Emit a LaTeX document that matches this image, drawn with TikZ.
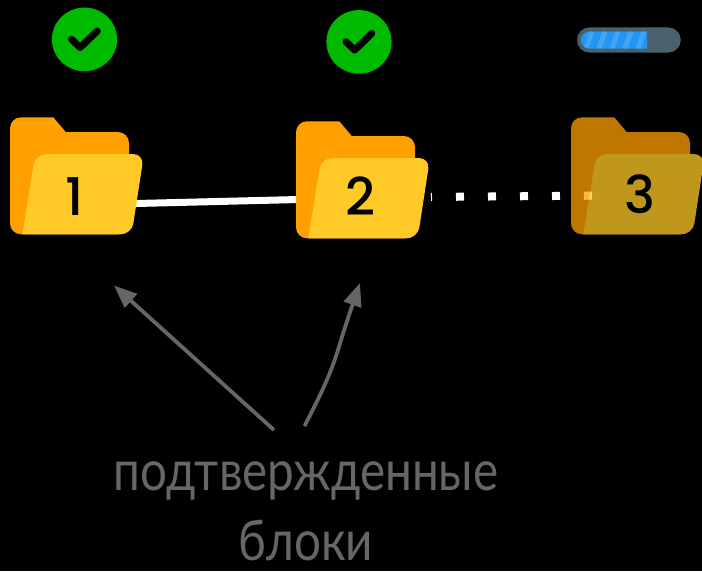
\documentclass[tikz,border=0pt]{standalone}
\usepackage{fontspec}
\setmainfont{Lato}
\newfontfamily\digitfont{Poppins Medium}
\newfontfamily\labelfont{Lato}
\usetikzlibrary{arrows.meta}
\pgfdeclarelayer{links}
\pgfdeclarelayer{base}
\pgfsetlayers{base,links,main}
\definecolor{folderback}{HTML}{FFA000}
\definecolor{folderfront}{HTML}{FFCA28}
\definecolor{okgreen}{HTML}{00BA00}
\definecolor{barback}{HTML}{4A606B}
\definecolor{barfill}{HTML}{2196F3}
\definecolor{barstripe}{HTML}{42A5F5}
\definecolor{notegrey}{HTML}{666666}
\tikzset{
  x=1pt,y=-1pt,
  folder/.pic={
    \fill[folderback,rounded corners=11] (40,234.3) -- (10,234.3) -- (10,117.3) [sharp corners] -- (53.3,117.3) -- (65.7,132) [rounded corners=11] -- (129,132) -- (129,234.3) -- cycle;
    \fill[folderfront,rounded corners=11] (80,234.3) [sharp corners] -- (22.3,234.3) [rounded corners=11] -- (35.3,154) -- (144,154) -- (131.7,234.3) -- cycle;
  },
  okmark/.pic={
    \fill[okgreen] (84.5,39.4) ellipse [x radius=32.6,y radius=31.8];
    \draw[black,line width=7,line cap=round,line join=round] (71.5,39.3) -- (80.2,47.5) -- (97.3,31);
  },
  digit/.style={inner sep=0,black,font=\digitfont\fontsize{52}{52}\selectfont},
  notearrow/.style={notegrey,line width=3.8,-{Triangle[length=23,width=18]}},
  solidlink/.style={white,line width=7},
  dotlink/.style={white,line width=8,dash pattern=on 8 off 24,dash phase=7,shorten <=71pt},
  note/.style={notegrey,align=center,inner sep=0,xscale=.85,font=\labelfont\fontsize{56}{70}\selectfont},
}
\begin{document}
\begin{tikzpicture}
\useasboundingbox (0,0) rectangle (702,571);
\begin{pgfonlayer}{base}
\fill[black] (0,0) rectangle (702,571);
\end{pgfonlayer}

\pic at (0,0) {okmark};
\pic at (274.5,2.5) {okmark};

% progress bar
\fill[barback] (589.6,27.4) arc[start angle=270,end angle=90,radius=12.6] -- (668.2,52.6) arc[start angle=90,end angle=-90,radius=12.6] -- cycle;
\begin{scope}
\clip (589.5,31.5) arc[start angle=270,end angle=90,radius=8.5] -- (647,48.5) -- (647,31.5) -- cycle;
\fill[barfill] (575,25) rectangle (650,55);
\foreach \xs in {589,602,615,628,641}
  \draw[barstripe,line width=5] (\xs-3,48.5) -- (\xs+3,31.5);
\end{scope}

% folders
\pic at (0,0) {folder};
\node[digit] (f1) at (75,196.5) {1};
\pic at (286,4) {folder};
\node[digit] (f2) at (360,196.5) {2};
\begin{scope}[transparency group,opacity=.75]
\pic at (561,0) {folder};
\node[digit] (f3) at (640,194) {3};
\end{scope}

\coordinate (dotend) at (592,195.7);
\begin{pgfonlayer}{links}
\draw[solidlink] ([yshift=-8.5pt]f1.center) -- ([yshift=-1.5pt]f2.center);
\draw[dotlink] ([yshift=-1pt]f2.center) -- (dotend);
\end{pgfonlayer}

% note
\node[note] (note) at (306,511) {подтвержденные\\блоки};
\coordinate (tailA) at (274,430);
\coordinate (tipA) at (114,285.5);
\coordinate (tailB) at (304.5,426);
\coordinate (tipB) at (360,283);
\draw[notearrow] (tailA) -- (tipA);
\draw[notearrow] (tailB) .. controls (318,400) and (330,376) .. (338,350) .. controls (344,330) and (352,306) .. (tipB);
\end{tikzpicture}
\end{document}
